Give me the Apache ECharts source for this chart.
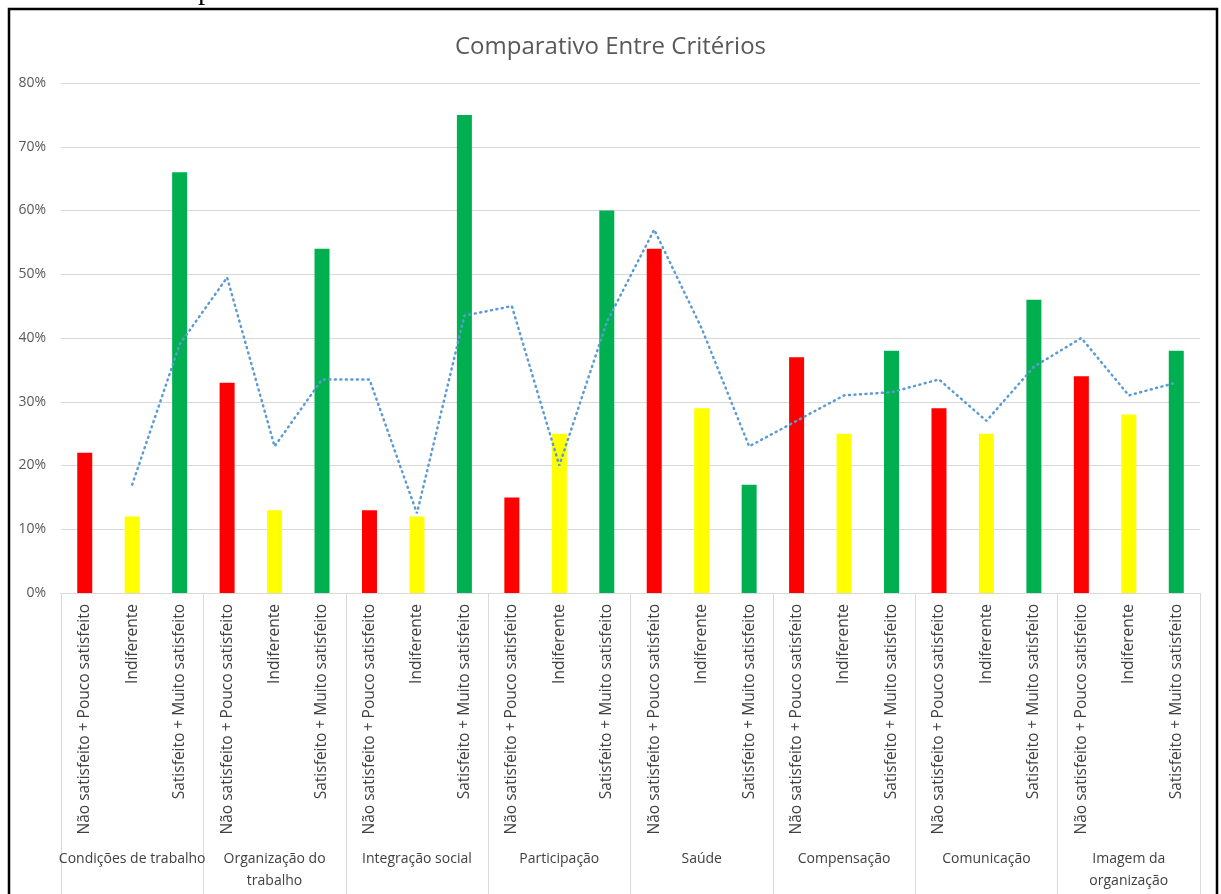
<!DOCTYPE html>
<html>
<head>
<meta charset="utf-8">
<script src="https://cdn.jsdelivr.net/npm/echarts@6/dist/echarts.min.js"></script>
<style>
html,body{margin:0;padding:0;background:#fff;}
#chart{width:1221px;height:894px;}
</style>
</head>
<body>
<div id="chart"></div>
<script>
const groups = ['Condições de trabalho','Organização do\ntrabalho','Integração social','Participação','Saúde','Compensação','Comunicação','Imagem da\norganização'];
const levels = ['Não satisfeito + Pouco satisfeito','Indiferente','Satisfeito + Muito satisfeito'];
const values = [22,12,66, 33,13,54, 13,12,75, 15,25,60, 54,29,17, 37,25,38, 29,25,46, 34,28,38];
const trend = [null,17,39, 49.5,23,33.5, 33.5,12.5,43.5, 45,20,42.5, 57,41.5,23, 27,31,31.5, 33.5,27,35.5, 40,31,33];
const yTicks = [0,10,20,30,40,50,60,70,80];

const categories = [];
groups.forEach(() => levels.forEach(l => categories.push(l)));
const palette = ['#FF0000','#FFFF00','#00B050'];

const chart = echarts.init(document.getElementById('chart'));
chart.setOption({
  animation:false,
  backgroundColor:'#fff',
  title:{text:'Comparativo Entre Critérios',left:'center',top:30,
    textStyle:{fontFamily:'Open Sans',fontSize:24,fontWeight:'normal',color:'#595959'}},
  graphic:[
    {type:'rect',shape:{x:9,y:9,width:1208,height:900},style:{fill:'none',stroke:'#000',lineWidth:2.5},z:100},
    {type:'text',left:16,top:-23,style:{text:'Gráfico 5: Comparativo entre critérios',fontFamily:'Liberation Serif',fontSize:29,fill:'#000'}}
  ],
  grid:{left:61,right:21,top:83,bottom:301,containLabel:false},
  xAxis:[
    {type:'category',data:categories,position:'bottom',
      axisLine:{lineStyle:{color:'#d9d9d9',width:1}},axisTick:{show:false},
      axisLabel:{interval:0,rotate:90,margin:11,fontFamily:'Open Sans',fontSize:15.5,color:'#404040'}},
    {type:'category',data:groups,position:'bottom',gridIndex:0,
      axisLine:{show:false},
      axisTick:{show:true,interval:0,length:302,lineStyle:{color:'#d9d9d9'}},
      axisLabel:{interval:0,margin:255,fontFamily:'Open Sans',fontSize:14,color:'#404040',lineHeight:22},
      axisPointer:{show:false}}
  ],
  yAxis:{type:'value',min:0,max:80,interval:10,
    axisLine:{show:false},axisTick:{show:false},
    axisLabel:{formatter:v=>yTicks.includes(v)?v+'%':'',fontFamily:'Open Sans',fontSize:14,color:'#595959',margin:15},
    splitLine:{lineStyle:{color:'#d9d9d9'}}},
  series:[
    {type:'bar',data:values,barWidth:15,xAxisIndex:0,
      itemStyle:{color:p=>palette[p.dataIndex%3]}},
    {type:'line',data:trend,xAxisIndex:0,symbol:'none',
      lineStyle:{color:'#5B9BD5',width:2.5,type:[1,4.5],cap:'round'}}
  ]
});
</script>
</body>
</html>
